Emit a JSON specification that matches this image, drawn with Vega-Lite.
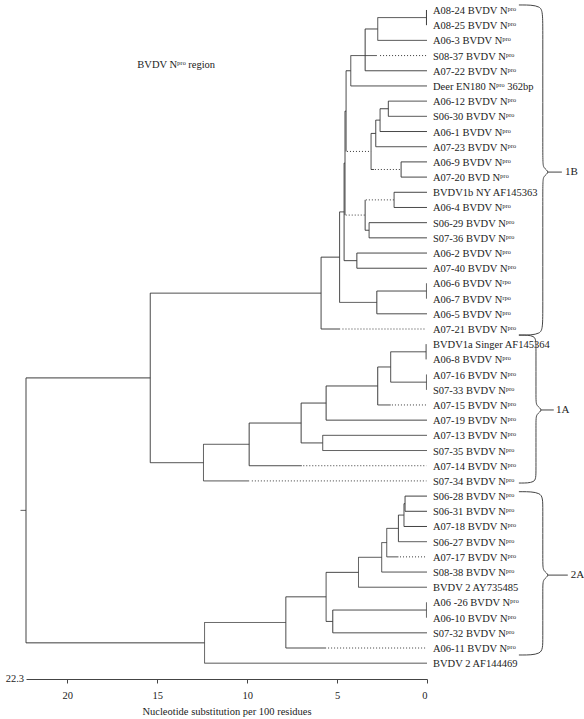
{
  "$schema": "https://vega.github.io/schema/vega-lite/v6.json",
  "width": 401,
  "height": 679,
  "autosize": "none",
  "padding": {"left": 26, "top": 0, "right": 157, "bottom": 40},
  "config": {"view": {"stroke": null}, "font": "Liberation Serif"},
  "datasets": {
    "seg": [
      {"x":0.03,"x2":0.03,"y":1,"y2":2,"s":"s"},
      {"x":2.74,"x2":2.74,"y":1.5,"y2":3,"s":"s"},
      {"x":3.44,"x2":3.44,"y":2.25,"y2":5,"s":"s"},
      {"x":4.24,"x2":4.24,"y":4,"y2":6,"s":"s"},
      {"x":2.15,"x2":2.15,"y":7,"y2":8,"s":"s"},
      {"x":2.61,"x2":2.61,"y":7.5,"y2":9,"s":"s"},
      {"x":2.85,"x2":2.85,"y":8.25,"y2":10,"s":"s"},
      {"x":1.44,"x2":1.44,"y":11,"y2":12,"s":"s"},
      {"x":3.11,"x2":3.11,"y":9.125,"y2":11.5,"s":"s"},
      {"x":4.5,"x2":4.5,"y":5,"y2":10.31,"s":"s"},
      {"x":1.83,"x2":1.83,"y":13,"y2":14,"s":"s"},
      {"x":3.22,"x2":3.22,"y":15,"y2":16,"s":"s"},
      {"x":3.44,"x2":3.44,"y":13.5,"y2":15.5,"s":"s"},
      {"x":4.56,"x2":4.56,"y":7.66,"y2":14.5,"s":"s"},
      {"x":3.9,"x2":3.9,"y":17,"y2":18,"s":"s"},
      {"x":4.61,"x2":4.61,"y":11.08,"y2":17.5,"s":"s"},
      {"x":0.03,"x2":0.03,"y":19,"y2":20,"s":"s"},
      {"x":2.79,"x2":2.79,"y":19.5,"y2":21,"s":"s"},
      {"x":4.86,"x2":4.86,"y":14.29,"y2":20.25,"s":"s"},
      {"x":5.89,"x2":5.89,"y":17.27,"y2":22,"s":"s"},
      {"x":15.39,"x2":15.39,"y":19.64,"y2":30.8,"s":"s"},
      {"x":0.05,"x2":0.05,"y":23,"y2":24,"s":"s"},
      {"x":0.03,"x2":0.03,"y":25,"y2":26,"s":"s"},
      {"x":2.02,"x2":2.02,"y":23.5,"y2":25.5,"s":"s"},
      {"x":2.74,"x2":2.74,"y":24.5,"y2":27,"s":"s"},
      {"x":5.61,"x2":5.61,"y":25.75,"y2":28,"s":"s"},
      {"x":5.8,"x2":5.8,"y":29,"y2":30,"s":"s"},
      {"x":7.0,"x2":7.0,"y":26.875,"y2":29.5,"s":"s"},
      {"x":9.89,"x2":9.89,"y":28.19,"y2":31,"s":"s"},
      {"x":12.43,"x2":12.43,"y":29.59,"y2":32,"s":"s"},
      {"x":1.22,"x2":1.22,"y":33,"y2":34,"s":"s"},
      {"x":1.28,"x2":1.28,"y":33.5,"y2":35,"s":"s"},
      {"x":1.59,"x2":1.59,"y":34.25,"y2":36,"s":"s"},
      {"x":2.24,"x2":2.24,"y":35.125,"y2":37,"s":"s"},
      {"x":2.52,"x2":2.52,"y":36.06,"y2":38,"s":"s"},
      {"x":3.81,"x2":3.81,"y":37.03,"y2":39,"s":"s"},
      {"x":0.03,"x2":0.03,"y":40,"y2":41,"s":"s"},
      {"x":5.24,"x2":5.24,"y":40.5,"y2":42,"s":"s"},
      {"x":5.61,"x2":5.61,"y":38.02,"y2":41.25,"s":"s"},
      {"x":7.85,"x2":7.85,"y":39.63,"y2":43,"s":"s"},
      {"x":12.37,"x2":12.37,"y":41.32,"y2":44,"s":"s"},
      {"x":22.3,"x2":22.3,"y":25.22,"y2":42.66,"s":"s"},

      {"x":2.74,"x2":0.03,"y":1.5,"y2":1.5,"s":"s"},
      {"x":2.74,"x2":0,"y":3,"y2":3,"s":"s"},
      {"x":3.44,"x2":2.74,"y":2.25,"y2":2.25,"s":"s"},
      {"x":4.24,"x2":2.79,"y":4,"y2":4,"s":"s"},
      {"x":2.61,"x2":0.03,"y":4,"y2":4,"s":"d"},
      {"x":3.44,"x2":0,"y":5,"y2":5,"s":"s"},
      {"x":4.5,"x2":4.24,"y":5,"y2":5,"s":"s"},
      {"x":4.24,"x2":0,"y":6,"y2":6,"s":"s"},
      {"x":2.61,"x2":2.15,"y":7.5,"y2":7.5,"s":"s"},
      {"x":2.15,"x2":0,"y":7,"y2":7,"s":"s"},
      {"x":2.15,"x2":0,"y":8,"y2":8,"s":"s"},
      {"x":2.85,"x2":2.61,"y":8.25,"y2":8.25,"s":"s"},
      {"x":2.61,"x2":0,"y":9,"y2":9,"s":"s"},
      {"x":3.11,"x2":2.85,"y":9.125,"y2":9.125,"s":"s"},
      {"x":2.85,"x2":0,"y":10,"y2":10,"s":"s"},
      {"x":3.11,"x2":2.95,"y":11.5,"y2":11.5,"s":"s"},
      {"x":2.9,"x2":1.44,"y":11.5,"y2":11.5,"s":"d"},
      {"x":1.44,"x2":0,"y":11,"y2":11,"s":"s"},
      {"x":1.44,"x2":0,"y":12,"y2":12,"s":"s"},
      {"x":4.45,"x2":3.11,"y":10.31,"y2":10.31,"s":"d"},
      {"x":4.56,"x2":4.5,"y":7.66,"y2":7.66,"s":"s"},
      {"x":3.4,"x2":1.83,"y":13.5,"y2":13.5,"s":"d"},
      {"x":1.83,"x2":0,"y":13,"y2":13,"s":"s"},
      {"x":1.83,"x2":0,"y":14,"y2":14,"s":"s"},
      {"x":3.44,"x2":3.22,"y":15.5,"y2":15.5,"s":"s"},
      {"x":3.22,"x2":0,"y":15,"y2":15,"s":"s"},
      {"x":3.22,"x2":0,"y":16,"y2":16,"s":"s"},
      {"x":4.52,"x2":3.44,"y":14.5,"y2":14.5,"s":"d"},
      {"x":4.61,"x2":4.56,"y":11.08,"y2":11.08,"s":"s"},
      {"x":4.61,"x2":3.9,"y":17.5,"y2":17.5,"s":"s"},
      {"x":3.9,"x2":0,"y":17,"y2":17,"s":"s"},
      {"x":3.9,"x2":0,"y":18,"y2":18,"s":"s"},
      {"x":4.86,"x2":4.61,"y":14.29,"y2":14.29,"s":"s"},
      {"x":2.79,"x2":0.03,"y":19.5,"y2":19.5,"s":"s"},
      {"x":2.79,"x2":0,"y":21,"y2":21,"s":"s"},
      {"x":4.86,"x2":2.79,"y":20.25,"y2":20.25,"s":"s"},
      {"x":5.89,"x2":4.86,"y":17.27,"y2":17.27,"s":"s"},
      {"x":5.89,"x2":4.83,"y":22,"y2":22,"s":"s"},
      {"x":4.7,"x2":0.03,"y":22,"y2":22,"s":"d"},
      {"x":15.39,"x2":5.89,"y":19.64,"y2":19.64,"s":"s"},
      {"x":15.39,"x2":12.43,"y":30.8,"y2":30.8,"s":"s"},
      {"x":22.3,"x2":15.39,"y":25.22,"y2":25.22,"s":"s"},
      {"x":2.02,"x2":0.05,"y":23.5,"y2":23.5,"s":"s"},
      {"x":2.02,"x2":0.03,"y":25.5,"y2":25.5,"s":"s"},
      {"x":2.74,"x2":2.02,"y":24.5,"y2":24.5,"s":"s"},
      {"x":2.74,"x2":2.02,"y":27,"y2":27,"s":"s"},
      {"x":1.95,"x2":0.03,"y":27,"y2":27,"s":"d"},
      {"x":5.61,"x2":2.74,"y":25.75,"y2":25.75,"s":"s"},
      {"x":5.61,"x2":0,"y":28,"y2":28,"s":"s"},
      {"x":7.0,"x2":5.61,"y":26.875,"y2":26.875,"s":"s"},
      {"x":7.0,"x2":5.8,"y":29.5,"y2":29.5,"s":"s"},
      {"x":5.8,"x2":0,"y":29,"y2":29,"s":"s"},
      {"x":5.8,"x2":0,"y":30,"y2":30,"s":"s"},
      {"x":9.89,"x2":7.0,"y":28.19,"y2":28.19,"s":"s"},
      {"x":9.89,"x2":6.96,"y":31,"y2":31,"s":"s"},
      {"x":6.88,"x2":0.03,"y":31,"y2":31,"s":"d"},
      {"x":12.43,"x2":9.89,"y":29.59,"y2":29.59,"s":"s"},
      {"x":12.43,"x2":9.89,"y":32,"y2":32,"s":"s"},
      {"x":9.74,"x2":0.03,"y":32,"y2":32,"s":"d"},
      {"x":1.28,"x2":1.22,"y":33.5,"y2":33.5,"s":"s"},
      {"x":1.22,"x2":0,"y":33,"y2":33,"s":"s"},
      {"x":1.22,"x2":0,"y":34,"y2":34,"s":"s"},
      {"x":1.28,"x2":0,"y":35,"y2":35,"s":"s"},
      {"x":1.59,"x2":1.28,"y":34.25,"y2":34.25,"s":"s"},
      {"x":1.59,"x2":0,"y":36,"y2":36,"s":"s"},
      {"x":2.24,"x2":1.59,"y":35.125,"y2":35.125,"s":"s"},
      {"x":2.24,"x2":1.59,"y":37,"y2":37,"s":"s"},
      {"x":1.5,"x2":0.03,"y":37,"y2":37,"s":"d"},
      {"x":2.52,"x2":2.24,"y":36.06,"y2":36.06,"s":"s"},
      {"x":2.52,"x2":0,"y":38,"y2":38,"s":"s"},
      {"x":3.81,"x2":2.52,"y":37.03,"y2":37.03,"s":"s"},
      {"x":3.81,"x2":0,"y":39,"y2":39,"s":"s"},
      {"x":5.61,"x2":3.81,"y":38.02,"y2":38.02,"s":"s"},
      {"x":5.24,"x2":0.03,"y":40.5,"y2":40.5,"s":"s"},
      {"x":5.24,"x2":0,"y":42,"y2":42,"s":"s"},
      {"x":5.61,"x2":5.24,"y":41.25,"y2":41.25,"s":"s"},
      {"x":7.85,"x2":5.61,"y":39.63,"y2":39.63,"s":"s"},
      {"x":7.85,"x2":5.61,"y":43,"y2":43,"s":"s"},
      {"x":5.5,"x2":0.03,"y":43,"y2":43,"s":"d"},
      {"x":12.37,"x2":7.85,"y":41.32,"y2":41.32,"s":"s"},
      {"x":12.37,"x2":0,"y":44,"y2":44,"s":"s"},
      {"x":22.3,"x2":12.37,"y":42.66,"y2":42.66,"s":"s"},
      {"x":22.6,"x2":22.3,"y":33.94,"y2":33.94,"s":"s"}
    ],
    "leaves": [
      {"i":1,"label":"A08-24 BVDV Nᵖʳᵒ"},
      {"i":2,"label":"A08-25 BVDV Nᵖʳᵒ"},
      {"i":3,"label":"A06-3 BVDV Nᵖʳᵒ"},
      {"i":4,"label":"S08-37 BVDV Nᵖʳᵒ"},
      {"i":5,"label":"A07-22 BVDV Nᵖʳᵒ"},
      {"i":6,"label":"Deer EN180 Nᵖʳᵒ 362bp"},
      {"i":7,"label":"A06-12 BVDV Nᵖʳᵒ"},
      {"i":8,"label":"S06-30 BVDV Nᵖʳᵒ"},
      {"i":9,"label":"A06-1 BVDV Nᵖʳᵒ"},
      {"i":10,"label":"A07-23 BVDV Nᵖʳᵒ"},
      {"i":11,"label":"A06-9 BVDV Nᵖʳᵒ"},
      {"i":12,"label":"A07-20 BVD Nᵖʳᵒ"},
      {"i":13,"label":"BVDV1b NY AF145363"},
      {"i":14,"label":"A06-4 BVDV Nᵖʳᵒ"},
      {"i":15,"label":"S06-29 BVDV Nᵖʳᵒ"},
      {"i":16,"label":"S07-36 BVDV Nᵖʳᵒ"},
      {"i":17,"label":"A06-2 BVDV Nᵖʳᵒ"},
      {"i":18,"label":"A07-40 BVDV Nᵖʳᵒ"},
      {"i":19,"label":"A06-6 BVDV Nʳᵖᵒ"},
      {"i":20,"label":"A06-7 BVDV Nʳᵖᵒ"},
      {"i":21,"label":"A06-5 BVDV Nᵖʳᵒ"},
      {"i":22,"label":"A07-21 BVDV Nᵖʳᵒ"},
      {"i":23,"label":"BVDV1a Singer AF145364"},
      {"i":24,"label":"A06-8 BVDV Nᵖʳᵒ"},
      {"i":25,"label":"A07-16 BVDV Nᵖʳᵒ"},
      {"i":26,"label":"S07-33 BVDV Nᵖʳᵒ"},
      {"i":27,"label":"A07-15 BVDV Nᵖʳᵒ"},
      {"i":28,"label":"A07-19 BVDV Nᵖʳᵒ"},
      {"i":29,"label":"A07-13 BVDV Nᵖʳᵒ"},
      {"i":30,"label":"S07-35 BVDV Nᵖʳᵒ"},
      {"i":31,"label":"A07-14 BVDV Nᵖʳᵒ"},
      {"i":32,"label":"S07-34 BVDV Nᵖʳᵒ"},
      {"i":33,"label":"S06-28 BVDV Nᵖʳᵒ"},
      {"i":34,"label":"S06-31 BVDV Nᵖʳᵒ"},
      {"i":35,"label":"A07-18 BVDV Nᵖʳᵒ"},
      {"i":36,"label":"S06-27 BVDV Nᵖʳᵒ"},
      {"i":37,"label":"A07-17 BVDV Nᵖʳᵒ"},
      {"i":38,"label":"S08-38 BVDV Nᵖʳᵒ"},
      {"i":39,"label":"BVDV 2 AY735485"},
      {"i":40,"label":"A06 -26 BVDV Nᵖʳᵒ"},
      {"i":41,"label":"A06-10 BVDV Nᵖʳᵒ"},
      {"i":42,"label":"S07-32 BVDV Nᵖʳᵒ"},
      {"i":43,"label":"A06-11 BVDV Nᵖʳᵒ"},
      {"i":44,"label":"BVDV 2 AF144469"}
    ],
    "brace": [
      {"clade":"1B","seq":1,"bx":-5.11,"by":0.67},
      {"clade":"1B","seq":2,"bx":-6.44,"by":0.67},
      {"clade":"1B","seq":3,"bx":-6.44,"by":1.5},
      {"clade":"1B","seq":4,"bx":-6.44,"by":10.9},
      {"clade":"1B","seq":5,"bx":-6.44,"by":11.4},
      {"clade":"1B","seq":6,"bx":-6.86,"by":11.67},
      {"clade":"1B","seq":7,"bx":-6.44,"by":11.94},
      {"clade":"1B","seq":8,"bx":-6.44,"by":12.44},
      {"clade":"1B","seq":9,"bx":-6.44,"by":21.57},
      {"clade":"1B","seq":10,"bx":-6.44,"by":22.4},
      {"clade":"1B","seq":11,"bx":-5.11,"by":22.4},
      {"clade":"1A","seq":1,"bx":-5.11,"by":22.4},
      {"clade":"1A","seq":2,"bx":-6.06,"by":22.4},
      {"clade":"1A","seq":3,"bx":-6.06,"by":23.0},
      {"clade":"1A","seq":4,"bx":-6.06,"by":26.6},
      {"clade":"1A","seq":5,"bx":-6.06,"by":27.06},
      {"clade":"1A","seq":6,"bx":-6.48,"by":27.33},
      {"clade":"1A","seq":7,"bx":-6.06,"by":27.6},
      {"clade":"1A","seq":8,"bx":-6.06,"by":28.06},
      {"clade":"1A","seq":9,"bx":-6.06,"by":31.54},
      {"clade":"1A","seq":10,"bx":-6.06,"by":32.14},
      {"clade":"1A","seq":11,"bx":-5.11,"by":32.14},
      {"clade":"2A","seq":1,"bx":-5.11,"by":32.71},
      {"clade":"2A","seq":2,"bx":-6.44,"by":32.71},
      {"clade":"2A","seq":3,"bx":-6.44,"by":33.5},
      {"clade":"2A","seq":4,"bx":-6.44,"by":37.43},
      {"clade":"2A","seq":5,"bx":-6.44,"by":37.93},
      {"clade":"2A","seq":6,"bx":-6.86,"by":38.2},
      {"clade":"2A","seq":7,"bx":-6.44,"by":38.47},
      {"clade":"2A","seq":8,"bx":-6.44,"by":38.97},
      {"clade":"2A","seq":9,"bx":-6.44,"by":42.66},
      {"clade":"2A","seq":10,"bx":-6.44,"by":43.46},
      {"clade":"2A","seq":11,"bx":-5.11,"by":43.46}
    ],
    "clades": [
      {"clade":"1B","tx":-6.72,"tx2":-7.5,"lx":-7.67,"ty":11.67},
      {"clade":"1A","tx":-6.33,"tx2":-7.05,"lx":-7.17,"ty":27.33},
      {"clade":"2A","tx":-6.72,"tx2":-7.83,"lx":-8.0,"ty":38.2}
    ]
  },
  "layer": [
    {
      "data": {"name": "seg"},
      "mark": {"type": "rule", "color": "#3c3c3c", "strokeWidth": 1},
      "encoding": {
        "x": {"field": "x", "type": "quantitative",
              "scale": {"domain": [0, 22.3], "reverse": true, "nice": false, "zero": false},
              "axis": {"values": [0, 5, 10, 15, 20], "format": "d", "title": "Nucleotide substitution per 100 residues",
                       "grid": false, "domainColor": "#444", "tickColor": "#444", "tickSize": 4,
                       "labelFont": "Liberation Serif", "labelFontSize": 10.5, "labelColor": "#222", "labelPadding": 7,
                       "titleFont": "Liberation Serif", "titleFontSize": 10.5, "titleFontWeight": "normal", "titleColor": "#222", "titlePadding": 6}},
        "x2": {"field": "x2"},
        "y": {"field": "y", "type": "quantitative",
              "scale": {"domain": [0.342, 45.04], "reverse": true, "nice": false, "zero": false}, "axis": null},
        "y2": {"field": "y2"},
        "strokeDash": {"field": "s", "type": "nominal",
                       "scale": {"domain": ["s", "d"], "range": [[1, 0], [1, 2]]}, "legend": null}
      }
    },
    {
      "data": {"name": "leaves"},
      "mark": {"type": "text", "align": "left", "baseline": "middle", "dx": 6, "dy": 1, "font": "Liberation Serif", "fontSize": 10.5, "color": "#222"},
      "encoding": {
        "x": {"datum": 0, "type": "quantitative"},
        "y": {"field": "i", "type": "quantitative"},
        "text": {"field": "label"}
      }
    },
    {
      "data": {"name": "brace"},
      "mark": {"type": "line", "interpolate": "basis", "color": "#444", "strokeWidth": 1},
      "encoding": {
        "x": {"field": "bx", "type": "quantitative"},
        "y": {"field": "by", "type": "quantitative"},
        "detail": {"field": "clade"},
        "order": {"field": "seq", "type": "quantitative"}
      }
    },
    {
      "data": {"name": "clades"},
      "mark": {"type": "rule", "color": "#444", "strokeWidth": 1},
      "encoding": {
        "x": {"field": "tx", "type": "quantitative"},
        "x2": {"field": "tx2"},
        "y": {"field": "ty", "type": "quantitative"}
      }
    },
    {
      "data": {"name": "clades"},
      "mark": {"type": "text", "align": "left", "baseline": "middle", "font": "Liberation Serif", "fontSize": 11, "color": "#222"},
      "encoding": {
        "x": {"field": "lx", "type": "quantitative"},
        "y": {"field": "ty", "type": "quantitative"},
        "text": {"field": "clade"}
      }
    },
    {
      "data": {"values": [{"t": "BVDV Nᵖʳᵒ region", "tx": 16.11, "ty": 4.62}]},
      "mark": {"type": "text", "align": "left", "baseline": "middle", "font": "Liberation Serif", "fontSize": 10.5, "color": "#222"},
      "encoding": {
        "x": {"field": "tx", "type": "quantitative"},
        "y": {"field": "ty", "type": "quantitative"},
        "text": {"field": "t"}
      }
    },
    {
      "data": {"values": [{"t": "22.3", "tx": 22.3, "ty": 45.04}]},
      "mark": {"type": "text", "align": "right", "baseline": "middle", "dx": -2, "font": "Liberation Serif", "fontSize": 10.5, "color": "#222"},
      "encoding": {
        "x": {"field": "tx", "type": "quantitative"},
        "y": {"field": "ty", "type": "quantitative"},
        "text": {"field": "t"}
      }
    }
  ]
}
